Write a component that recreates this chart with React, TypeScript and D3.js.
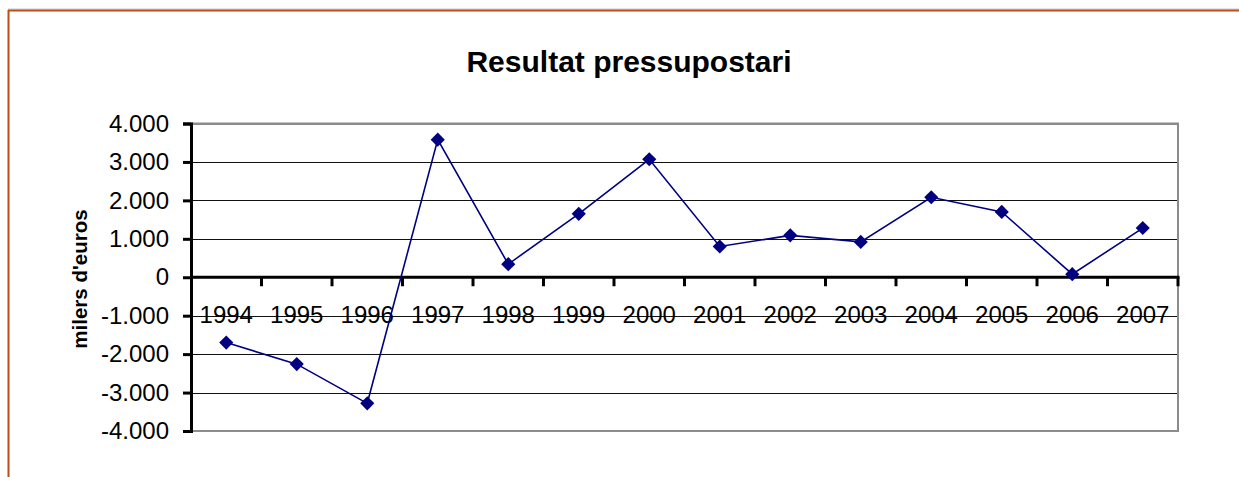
import React, { useEffect, useRef } from "react";
import * as d3 from "d3";

const years = ["1994", "1995", "1996", "1997", "1998", "1999", "2000", "2001", "2002", "2003", "2004", "2005", "2006", "2007"];
const resultat = [-1700, -2260, -3280, 3580, 340, 1650, 3070, 800, 1090, 920, 2080, 1700, 80, 1280];
const yTicks = [-4000, -3000, -2000, -1000, 0, 1000, 2000, 3000, 4000];

const W = 1239;
const H = 477;

export default function App() {
  const svgRef = useRef<SVGSVGElement>(null);

  useEffect(() => {
    const svg = d3.select(svgRef.current);
    svg.selectAll("*").remove();

    const font = "Liberation Sans, Arial, sans-serif";
    const left = 191, right = 1178, top = 123.5, bottom = 431;

    const x = d3.scaleBand<string>().domain(years).range([left, right]).padding(0);
    const y = d3.scaleLinear().domain([-4000, 4000]).range([bottom, top]);
    const fmt = d3.formatLocale({ decimal: ",", thousands: ".", grouping: [3], currency: ["", " €"], minus: "-" }).format(",d");

    // outer frame (only top and left visible)
    svg.append("line").attr("x1", 8).attr("x2", W).attr("y1", 9).attr("y2", 9).attr("stroke", "#c8c8c8").attr("stroke-width", 1);
    svg.append("line").attr("x1", 8).attr("x2", W).attr("y1", 10.5).attr("y2", 10.5).attr("stroke", "#bf4c18").attr("stroke-width", 2);
    svg.append("line").attr("x1", 8.5).attr("x2", 8.5).attr("y1", 10).attr("y2", H).attr("stroke", "#bf4c18").attr("stroke-width", 2);

    // title
    svg.append("text")
      .attr("x", 629).attr("y", 72)
      .attr("text-anchor", "middle")
      .attr("font-family", font).attr("font-weight", "bold").attr("font-size", 30)
      .text("Resultat pressupostari");

    // gridlines
    svg.append("g")
      .selectAll("line")
      .data(yTicks)
      .join("line")
      .attr("x1", left).attr("x2", right)
      .attr("y1", (d) => Math.round(y(d)) + 0.5).attr("y2", (d) => Math.round(y(d)) + 0.5)
      .attr("stroke", (d) => (Math.abs(d) === 4000 ? "#888" : "#111"))
      .attr("stroke-width", 1);

    // plot area border
    svg.append("path")
      .attr("d", `M${left},${top} H${right} V${bottom} H${left}`)
      .attr("fill", "none").attr("stroke", "#8c8c8c").attr("stroke-width", 2);

    // y axis
    const yAxis = svg.append("g")
      .attr("transform", `translate(${left},0)`)
      .call(d3.axisLeft(y).tickValues(yTicks).tickFormat((d) => fmt(d as number)).tickSize(8).tickPadding(14));
    yAxis.select(".domain").attr("stroke", "#000").attr("stroke-width", 3);
    yAxis.selectAll(".tick line").attr("stroke", "#000").attr("stroke-width", 3);
    yAxis.selectAll(".tick text").attr("font-family", font).attr("font-size", 24).attr("fill", "#000");

    // x axis line at zero with ticks between categories
    const zeroY = y(0);
    svg.append("line")
      .attr("x1", left).attr("x2", right + 1.5)
      .attr("y1", zeroY).attr("y2", zeroY)
      .attr("stroke", "#000").attr("stroke-width", 3);
    const bounds = years.map((d) => (x(d) as number) + x.bandwidth());
    svg.append("g")
      .selectAll("line")
      .data(bounds)
      .join("line")
      .attr("x1", (d) => d).attr("x2", (d) => d)
      .attr("y1", zeroY).attr("y2", zeroY + 9)
      .attr("stroke", "#000").attr("stroke-width", 3);

    svg.append("g")
      .selectAll("text")
      .data(years)
      .join("text")
      .attr("x", (d) => (x(d) as number) + x.bandwidth() / 2)
      .attr("y", 323)
      .attr("text-anchor", "middle")
      .attr("font-family", font).attr("font-size", 24)
      .text((d) => d);

    // axis title
    svg.append("text")
      .attr("transform", `translate(87,279) rotate(-90)`)
      .attr("text-anchor", "middle")
      .attr("font-family", font).attr("font-weight", "bold").attr("font-size", 20.5)
      .text("milers d'euros");

    // series
    const line = d3.line<number>()
      .x((_, i) => (x(years[i]) as number) + x.bandwidth() / 2)
      .y((d) => y(d));
    svg.append("path")
      .datum(resultat)
      .attr("d", line)
      .attr("fill", "none").attr("stroke", "#000080").attr("stroke-width", 1.6);

    svg.append("g")
      .selectAll("path")
      .data(resultat)
      .join("path")
      .attr("d", d3.symbol(d3.symbolSquare, 100)())
      .attr("transform", (d, i) => `translate(${(x(years[i]) as number) + x.bandwidth() / 2},${y(d)}) rotate(45)`)
      .attr("fill", "#000080");
  }, []);

  return (
    <svg
      ref={svgRef}
      width={W}
      height={H}
      style={{ position: "absolute", left: 0, top: 0, background: "#fff" }}
    />
  );
}
